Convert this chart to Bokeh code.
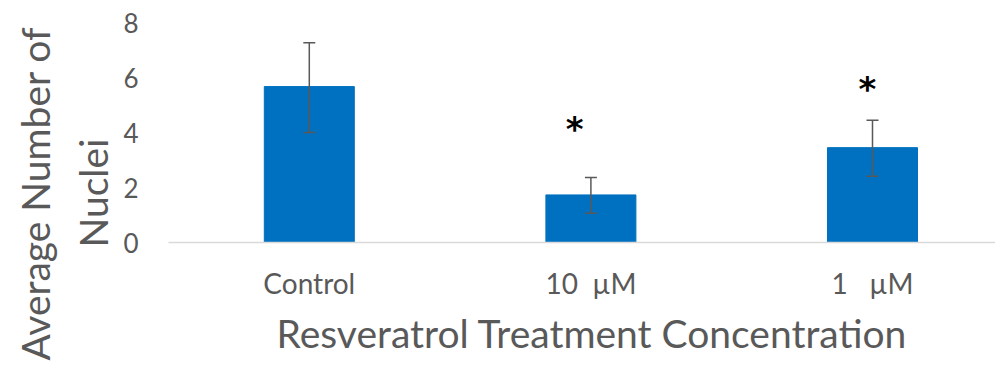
from bokeh.plotting import figure
from bokeh.models import ColumnDataSource, Whisker, TeeHead, FixedTicker, Title
from bokeh.core.properties import value
from bokeh.embed import file_html
from bokeh.resources import INLINE

# ---- data ----
categories = ["Control", "10  µM", "1   µM"]
means = [5.67, 1.73, 3.45]
err_lower = [4.00, 1.06, 2.41]
err_upper = [7.26, 2.36, 4.45]
y_ticks = [0, 2, 4, 6, 8]
star_labels = ["*", "*"]
star_cats = [1, 2]
star_y = [4.14, 5.59]

FONT = "Lato"
GRAY = "#595959"
BLUE = "#0070C0"

xs = list(range(len(categories)))
src = ColumnDataSource(dict(x=xs, top=means, lower=err_lower, upper=err_upper))

p = figure(width=995, height=366, output_backend="svg", toolbar_location=None,
           x_range=(-0.5, 2.4368), y_range=(0, 8),
           min_border_left=168, min_border_right=0, min_border_top=22,
           min_border_bottom=124)
p.outline_line_color = None
p.background_fill_color = "white"
p.border_fill_color = "white"
p.xgrid.visible = False
p.ygrid.visible = False

p.vbar(x="x", top="top", width=0.3196, source=src, fill_color=BLUE, line_color=BLUE)

w = Whisker(source=src, base="x", lower="lower", upper="upper",
            line_color=GRAY, line_width=1.5, level="annotation",
            upper_head=TeeHead(size=12, line_color=GRAY, line_width=1.5),
            lower_head=TeeHead(size=12, line_color=GRAY, line_width=1.5))
p.add_layout(w)

star_x = [c - o for c, o in zip(star_cats, [0.058, 0.018])]
p.text(x=star_x, y=star_y, text=star_labels, text_font=value("DejaVu Sans"),
       text_font_style="bold", text_font_size="34px", text_color="black",
       text_align="center", text_baseline="middle")

# x axis
p.xaxis.ticker = FixedTicker(ticks=xs)
p.xaxis.major_label_overrides = {i: c.replace(" ", "\u00a0") for i, c in enumerate(categories)}
p.xaxis.axis_line_color = "#d9d9d9"
p.xaxis.axis_line_width = 1.5
p.xaxis.major_tick_line_color = None
p.xaxis.minor_tick_line_color = None
p.xaxis.major_tick_out = 0
p.xaxis.major_label_standoff = 23
p.xaxis.major_label_text_font = FONT
p.xaxis.major_label_text_font_size = "28px"
p.xaxis.major_label_text_color = GRAY

# y axis
p.yaxis.ticker = FixedTicker(ticks=y_ticks)
p.yaxis.axis_line_color = None
p.yaxis.major_tick_line_color = None
p.yaxis.minor_tick_line_color = None
p.yaxis.major_tick_out = 0
p.yaxis.major_label_standoff = 30
p.yaxis.major_label_text_font = FONT
p.yaxis.major_label_text_font_size = "26px"
p.yaxis.major_label_text_color = GRAY

# axis titles as side-panel titles (not clipped to the frame)
def side_title(text, offset):
    return Title(text=text, align="left", offset=offset, standoff=10,
                 text_font=FONT, text_font_size="39px", text_font_style="normal",
                 text_color=GRAY)

p.add_layout(side_title("Resveratrol Treatment Concentration", 108), "below")
p.add_layout(side_title("Nuclei", -5), "left")
p.add_layout(side_title("Average Number of", -118), "left")

open("out.html", "w").write(file_html(p, INLINE))
